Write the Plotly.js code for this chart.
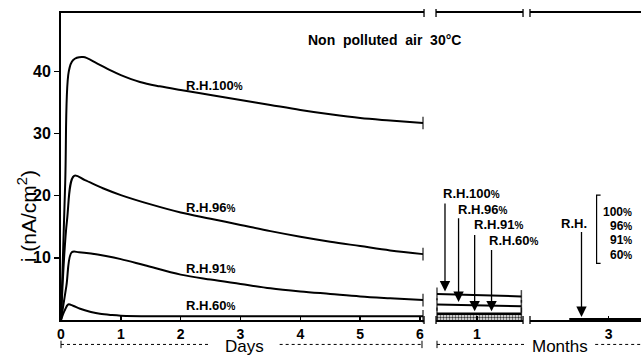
<!DOCTYPE html>
<html><head><meta charset="utf-8">
<script src="https://cdn.plot.ly/plotly-3.0.1.min.js"></script>
<style>html,body{margin:0;padding:0;background:#fff;}#chart{width:641px;height:357px;}</style>
</head><body><div id="chart"></div>
<script>
// ---- Days section (time in days, current in nA/cm2) ----
const dayTicks = [0, 1, 2, 3, 4, 5, 6];
const rh100T = [0, 0.07, 0.13, 0.2, 0.37, 0.6, 0.82, 1, 1.32, 1.65, 2, 2.5, 3, 3.5, 4, 4.5, 5, 5.5, 6.05];
const rh100I = [0, 22, 40, 41.8, 42.3, 41.3, 40.2, 39.4, 38.3, 37.6, 37.0, 36.2, 35.4, 34.6, 33.8, 33.1, 32.5, 32.1, 31.7];
const rh96T = [0, 0.1, 0.22, 0.4, 0.7, 1, 1.5, 2, 2.5, 3, 3.5, 4, 4.5, 5, 5.5, 6.05];
const rh96I = [0, 16, 23.2, 22.5, 21.2, 20.1, 18.6, 17.3, 16.3, 15.3, 14.3, 13.4, 12.6, 11.9, 11.2, 10.6];
const rh91T = [0, 0.09, 0.18, 0.3, 0.5, 0.75, 1, 1.4, 2, 2.5, 3, 3.5, 4, 4.5, 5, 5.5, 6.05];
const rh91I = [0, 5.5, 10.9, 10.9, 10.7, 10.3, 9.8, 8.8, 7.3, 6.5, 5.8, 5.1, 4.6, 4.2, 3.8, 3.5, 3.2];
const rh60T = [0, 0.06, 0.12, 0.2, 0.32, 0.5, 0.65, 0.85, 1, 1.5, 2, 3, 4, 5, 6.05];
const rh60I = [0, 1.5, 2.5, 2.3, 1.8, 1.3, 1.0, 0.8, 0.7, 0.6, 0.6, 0.6, 0.6, 0.6, 0.6];
const rhValues = ['100', '96', '91', '60'];
const dayLabelY = [37.8, 18.1, 8.3, 2.35];
const dayLabelX = 2.06;

// ---- Months section 1 (time in months) ----
const monthTicks2 = [1];
const months2X = [0.54, 1.51];
const rh100M = [4.2, 3.8];
const rh96M = [2.5, 2.2];
const rh91_60M = [1.0, 1.0];
const arrowMonths = [0.632, 0.788, 0.973, 1.167];
const arrowTips = [4.6, 2.9, 1.4, 1.4];
const arrowTops = [19.0, 16.6, 13.9, 11.5];
const arrowLabelX = [0.586, 0.759, 0.943, 1.115];
const arrowLabelY = [20.4, 17.8, 15.4, 12.8];

// ---- Months section 2 ----
const monthTicks3 = [3];
const months3X = [2.645, 3.291];
const allRH3 = [0, 0];
const arrow3X = 2.755, arrow3Top = 14.4, arrow3Tip = 0.5;
const pctY = [17.3, 15.2, 12.8, 10.4];

const F = 'Liberation Sans, Arial, Helvetica, sans-serif';
const BLK = '#000';
const pct = '<span style="font-size:10px">%</span>';

function endSizes(n, both) { return Array.from({length: n}, (_, i) => (i === n - 1 || (both && i === 0)) ? 9 : 0); }
function lineTrace(x, y, xa, both, w) {
  return {x, y, xaxis: xa, yaxis: 'y', type: 'scatter', mode: 'lines+markers', cliponaxis: false,
    line: {color: BLK, width: w || 2, shape: 'spline', smoothing: 1},
    marker: {symbol: 'line-ns', size: endSizes(x.length, both), color: BLK, line: {color: BLK, width: 1.5}},
    hoverinfo: 'skip', showlegend: false};
}
const data = [
  lineTrace(rh100T, rh100I, 'x'),
  lineTrace(rh96T, rh96I, 'x'),
  lineTrace(rh91T, rh91I, 'x'),
  lineTrace(rh60T, rh60I, 'x'),
  lineTrace(months2X, rh100M, 'x2', true),
  lineTrace(months2X, rh96M, 'x2', true),
  Object.assign(lineTrace(months2X, rh91_60M, 'x2', true, 2.5), {fill: 'tozeroy', fillcolor: '#aaa',
    fillpattern: {shape: '.', bgcolor: '#fff', fgcolor: '#333', size: 3, solidity: 0.5}}),
  {x: months3X, y: allRH3, xaxis: 'x3', yaxis: 'y', type: 'scatter', mode: 'lines', cliponaxis: false,
   line: {color: BLK, width: 4}, hoverinfo: 'skip', showlegend: false}
];

const tickFont = {family: F, size: 14, color: BLK, weight: 'bold'};
const xBase = {anchor: 'y', showline: true, linewidth: 2, linecolor: BLK, mirror: true, ticks: 'inside',
  ticklen: 4, tickwidth: 1.5, tickcolor: BLK, showgrid: false, zeroline: false, tickfont: tickFont, fixedrange: true};

const ann = [];
const lab = (text, x, y, xref, xanchor, size, extra) => ann.push(Object.assign({text, x, y, xref, yref: 'y',
  xanchor: xanchor || 'left', yanchor: 'middle', showarrow: false, font: {family: F, size: size || 13, color: BLK, weight: 'bold'}}, extra || {}));
rhValues.forEach((v, i) => lab('R.H.' + v + pct, dayLabelX, dayLabelY[i], 'x'));
rhValues.forEach((v, i) => {
  lab('R.H.' + v + pct, arrowLabelX[i], arrowLabelY[i], 'x2');
  ann.push({x: arrowMonths[i], y: arrowTips[i], xref: 'x2', yref: 'y', ax: arrowMonths[i], ay: arrowTops[i],
    axref: 'x2', ayref: 'y', text: '', showarrow: true, arrowhead: 2, arrowsize: 1.6, arrowwidth: 1.3, arrowcolor: BLK});
});
lab('R.H.', 2.691, 15.5, 'x3', 'center');
ann.push({x: arrow3X, y: arrow3Tip, xref: 'x3', yref: 'y', ax: arrow3X, ay: arrow3Top, axref: 'x3', ayref: 'y',
  text: '', showarrow: true, arrowhead: 2, arrowsize: 1.6, arrowwidth: 1.3, arrowcolor: BLK});
rhValues.forEach((v, i) => lab(v + pct, 3.225, pctY[i], 'x3', 'right', 12));
ann.push({text: 'Non\u00A0 polluted\u00A0 air\u00A0 30\u00B0C', x: 0.5586, y: 0.912, xref: 'paper', yref: 'paper',
  xanchor: 'center', yanchor: 'middle', showarrow: false, font: {family: F, size: 14, color: BLK, weight: 'bold'}});
ann.push({text: 'i (nA/cm<sup>2</sup>)', x: -0.0586, y: 0.338, xref: 'paper', yref: 'paper', textangle: -90,
  xanchor: 'center', yanchor: 'middle', showarrow: false, font: {family: F, size: 21, color: BLK}});
ann.push({text: 'Days', x: 0.3172, y: 0, yshift: -26.5, xref: 'paper', yref: 'paper', xanchor: 'center', yanchor: 'middle',
  showarrow: false, borderpad: 0, font: {family: F, size: 17, color: BLK}});
ann.push({text: 'Months', x: 0.8603, y: 0, yshift: -26.5, xref: 'paper', yref: 'paper', xanchor: 'center', yanchor: 'middle',
  showarrow: false, borderpad: 0, font: {family: F, size: 17, color: BLK}});

const shapes = [];
const pl = (x0, y0, x1, y1, extra) => shapes.push(Object.assign({type: 'line', xref: 'paper', yref: 'paper', x0, y0, x1, y1,
  line: {color: BLK, width: 1.3}}, extra || {}));
// axis break marks
[0.6259, 0.6466, 0.7966, 0.8086].forEach(px => { pl(px, 0.987, px, 1.013); pl(px, -0.013, px, 0.013); });
// Days / Months guide lines
const dy = -0.0796;
pl(0, dy, 0.258, dy, {line: {color: BLK, width: 1, dash: 'dot'}});
pl(0.377, dy, 0.6224, dy, {line: {color: BLK, width: 1, dash: 'dot'}});
pl(0.6483, dy, 0.8, dy, {line: {color: BLK, width: 1, dash: 'dot'}});
pl(0.921, dy, 1, dy, {line: {color: BLK, width: 1, dash: 'dot'}});
[0, 0.6224, 0.6483].forEach(px => pl(px, dy - 0.012, px, dy + 0.012, {line: {color: BLK, width: 1}}));
// bracket next to the percent list
shapes.push({type: 'path', xref: 'x3', yref: 'y', path: 'M 2.927 20.1 L 2.891 20.1 L 2.891 9.1 L 2.927 9.1',
  line: {color: BLK, width: 1.2}});

const layout = {
  width: 641, height: 357, margin: {l: 61, r: 0, t: 13, b: 37}, paper_bgcolor: '#fff', plot_bgcolor: '#fff',
  showlegend: false, font: {family: F, color: BLK},
  xaxis: Object.assign({}, xBase, {domain: [0, 0.6259], range: [0, 6.067], tickvals: dayTicks}),
  xaxis2: Object.assign({}, xBase, {domain: [0.6466, 0.7966], range: [0.529, 1.529], tickvals: monthTicks2}),
  xaxis3: Object.assign({}, xBase, {domain: [0.8086, 1], range: [2.291, 3.291], tickvals: monthTicks3}),
  yaxis: {range: [0, 49.4], showline: true, linewidth: 2, linecolor: BLK, ticks: 'outside', ticklen: 5, tickwidth: 1.5,
    tickcolor: BLK, tickvals: [10, 20, 30, 40], showgrid: false, zeroline: false,
    tickfont: {family: F, size: 16, color: BLK, weight: 'bold'}, fixedrange: true},
  annotations: ann, shapes: shapes
};
Plotly.newPlot('chart', data, layout, {staticPlot: true, displayModeBar: false});
</script></body></html>
